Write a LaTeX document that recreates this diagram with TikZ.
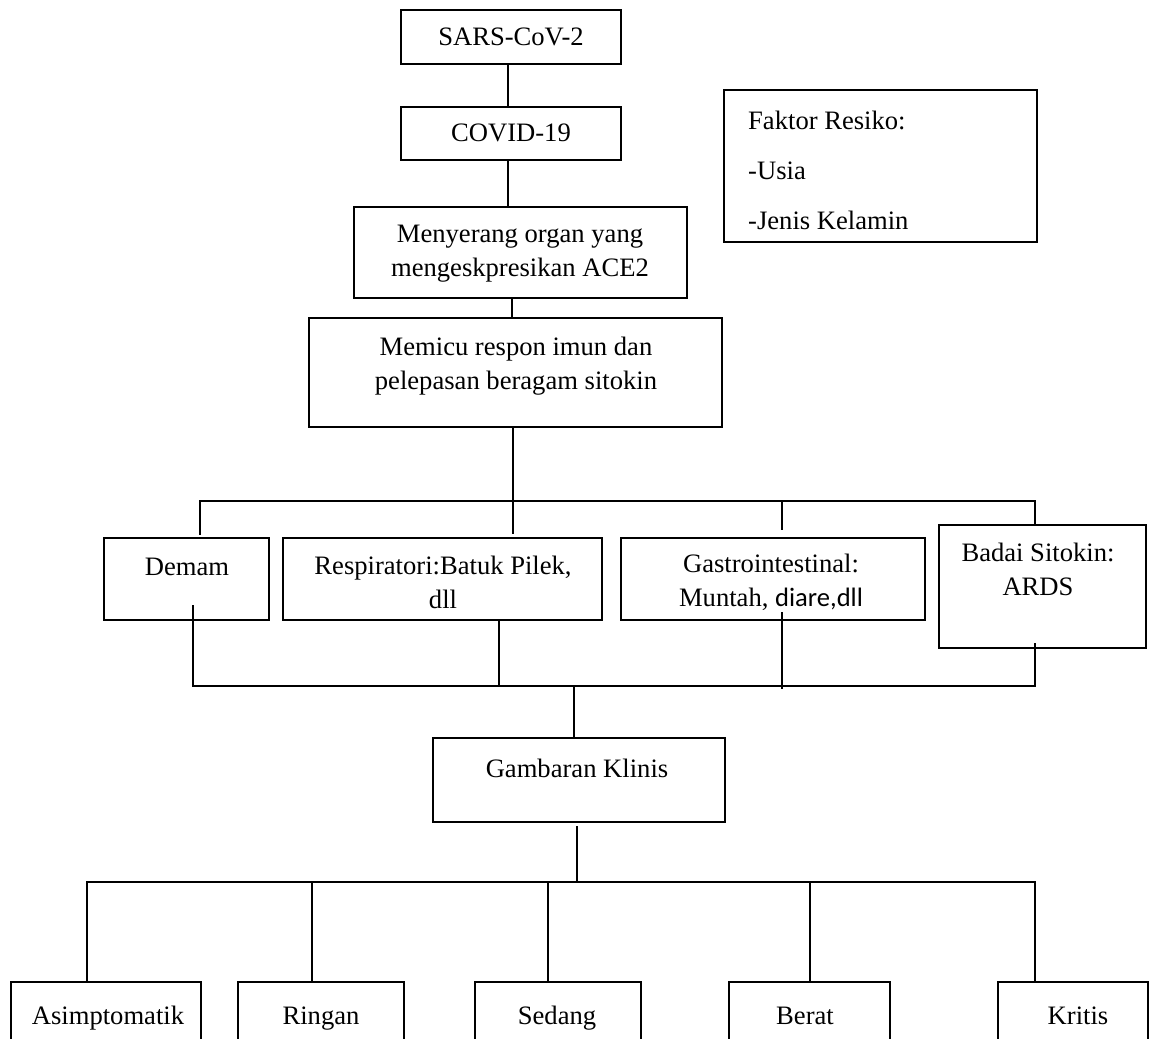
\documentclass[tikz,border=0pt]{standalone}
\usepackage{fontspec}
\setmainfont{Liberation Serif}
\newfontfamily\calibrifont{Carlito}
\begin{document}
\begin{tikzpicture}[x=1pt,y=-1pt,
  box/.style={draw, line width=2.9pt, inner sep=0pt},
  txt/.style={font=\fontsize{26.6}{34}\selectfont, align=center, inner sep=0pt},
  conn/.style={line width=2.9pt, line join=miter}]
\clip (0,0) rectangle (1152,1039);
\fill[white] (0,0) rectangle (1152,1039);
% boxes
\node[box, minimum width=220pt, minimum height=54pt] (sars) at (511,37) {};
\node[box, minimum width=220pt, minimum height=53pt] (covid) at (511,133.5) {};
\node[box, minimum width=333pt, minimum height=91pt] (menyerang) at (520.5,252.5) {};
\node[box, minimum width=413pt, minimum height=109pt] (memicu) at (515.5,372.5) {};
\node[box, minimum width=313pt, minimum height=152pt] (faktor) at (880.5,166) {};
\node[box, minimum width=165pt, minimum height=82pt] (demam) at (186.5,579) {};
\node[box, minimum width=319pt, minimum height=82pt] (respi) at (442.5,579) {};
\node[box, minimum width=304pt, minimum height=82pt] (gastro) at (773,579) {};
\node[box, minimum width=207pt, minimum height=123pt] (badai) at (1042.5,586.5) {};
\node[box, minimum width=292pt, minimum height=84pt] (gambaran) at (579,780) {};
\node[box, minimum width=190pt, minimum height=98pt] (asimp) at (106,1031) {};
\node[box, minimum width=166pt, minimum height=98pt] (ringan) at (321,1031) {};
\node[box, minimum width=166pt, minimum height=98pt] (sedang) at (558,1031) {};
\node[box, minimum width=161pt, minimum height=98pt] (berat) at (809.5,1031) {};
\node[box, minimum width=150pt, minimum height=98pt] (kritis) at (1073,1031) {};
% texts
\node[txt] (sars-t) at (511,37) {SARS-CoV-2};
\node[txt] (covid-t) at (511,133) {COVID-19};
\node[txt] (menyerang-t) at (520,254) {Menyerang organ yang\\mengeskpresikan ACE2};
\node[txt] (memicu-t) at (516,366) {Memicu respon imun dan\\pelepasan beragam sitokin};
\node[txt, align=left, anchor=west, font=\fontsize{26.6}{50}\selectfont] (faktor-t) at (748,170) {Faktor Resiko:\\-Usia\\-Jenis Kelamin};
\node[txt] (demam-t) at (187,567) {Demam};
\node[txt] (respi-t) at (443,582) {Respiratori:Batuk Pilek,\\dll};
\node[txt] (gastro-t) at (771,582) {Gastrointestinal:\\Muntah, {\calibrifont diare,dll}};
\node[txt] (badai-t) at (1038,569) {Badai Sitokin:\\ARDS};
\node[txt] (gambaran-t) at (577,768) {Gambaran Klinis};
\node[txt, anchor=base] (asimp-t) at (108,1024) {Asimptomatik};
\node[txt, anchor=base] (ringan-t) at (321,1024) {Ringan};
\node[txt, anchor=base] (sedang-t) at (557,1024) {Sedang};
\node[txt, anchor=base] (berat-t) at (805,1024) {Berat};
\node[txt, anchor=base] (kritis-t) at (1078,1024) {Kritis};
% bus coordinates
\coordinate (b1L) at (200,501);
\coordinate (b1R) at (1035,501);
\coordinate (g1) at (782,501);
\coordinate (d2) at (193,605);
\coordinate (b2L) at (193,686);
\coordinate (b2R) at (1035,686);
\coordinate (bd2) at (1035,643);
\coordinate (r2) at (499,620);
\coordinate (g2) at (782,612);
\coordinate (g2b) at (782,689);
\coordinate (b2M) at (574,686);
\coordinate (b3L) at (87,882);
\coordinate (b3R) at (1035,882);
\coordinate (b3a) at (312,882);
\coordinate (b3b) at (548,882);
\coordinate (b3c) at (810,882);
% connectors
\draw[conn] (sars.south -| 508,0) -- (covid.north -| 508,0);
\draw[conn] (covid.south -| 508,0) -- (menyerang.north -| 508,0);
\draw[conn] (menyerang.south -| 512,0) -- (memicu.north -| 512,0);
\draw[conn] (memicu.south -| 513,0) -- ([yshift=3pt]respi.north -| 513,0);
\draw[conn] ([yshift=2pt]b1L |- demam.north) -- (b1L) -- (b1R) -- (b1R |- badai.north);
\draw[conn] (g1) -- ([yshift=7pt]g1 |- gastro.north);
\draw[conn] (d2) -- (b2L) -- (b2R) -- (bd2);
\draw[conn] (r2) -- (r2 |- b2L);
\draw[conn] (g2) -- (g2b);
\draw[conn] (b2M) -- (b2M |- gambaran.north);
\draw[conn] ([yshift=-3pt]gambaran.south -| 577,0) -- (b3L -| 577,0);
\draw[conn] (b3L |- asimp.north) -- (b3L) -- (b3R) -- (b3R |- kritis.north);
\draw[conn] (b3a) -- (b3a |- ringan.north);
\draw[conn] (b3b) -- (b3b |- sedang.north);
\draw[conn] (b3c) -- (b3c |- berat.north);
\end{tikzpicture}
\end{document}
